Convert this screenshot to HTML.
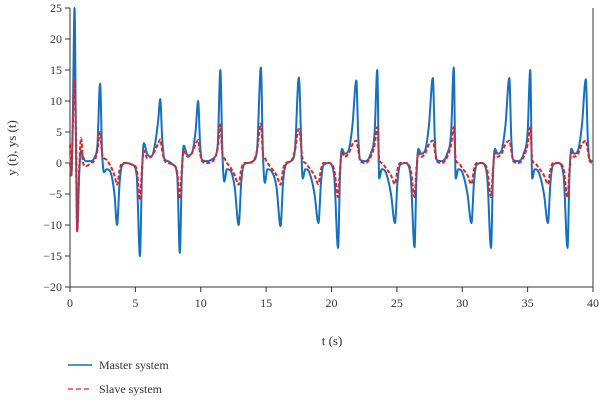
<!DOCTYPE html>
<html><head><meta charset="utf-8"><style>
body{margin:0;background:#fff;}
svg{display:block;font-family:"Liberation Serif",serif;}
</style></head><body>
<svg id="chart" width="600" height="400" viewBox="0 0 600 400" xmlns="http://www.w3.org/2000/svg">
<g id="axes"></g>
<g id="plot"></g>
<text x="332" y="345" font-size="13" fill="#333" text-anchor="middle">t (s)</text>
<text transform="translate(16,148) rotate(-90)" font-size="13" fill="#333" text-anchor="middle">y (t), ys (t)</text>
<g>
<line x1="68" y1="365" x2="92" y2="365" stroke="#1570c0" stroke-width="1.6"/>
<text x="99" y="369" font-size="12" fill="#333">Master system</text>
<line x1="68" y1="389" x2="92" y2="389" stroke="#e52222" stroke-width="1.3" stroke-dasharray="5,3"/>
<text x="99" y="393" font-size="12" fill="#333">Slave system</text>
</g>
</svg>
<script>
const xTicks=[0,5,10,15,20,25,30,35,40];
const yTicks=[-20,-15,-10,-5,0,5,10,15,20,25];
const times=[0,0.1,0.2,0.35,0.45,0.55,0.7,0.85,1.0,1.2,1.6,1.9,2.1,2.3,2.45,2.6,2.8,3.1,3.4,3.6,3.8,4.0,4.3,4.8,5.1,5.35,5.5,5.65,5.9,6.2,6.5,6.75,6.9,7.05,7.2,7.5,7.9,8.2,8.4,8.55,8.7,9.0,9.3,9.6,9.8,9.95,10.1,10.5,11.0,11.3,11.5,11.65,11.8,12.0,12.3,12.6,12.9,13.1,13.3,13.6,14.0,14.3,14.6,14.75,14.9,15.1,15.4,15.8,16.1,16.3,16.5,16.9,17.2,17.5,
17.8,18.0,18.3,18.7,19.0,19.2,19.4,19.8,20.2,20.5,20.65,20.8,21.0,21.3,21.6,21.9,22.05,22.2,22.6,23.0,23.3,23.5,
23.65,23.85,24.15,24.55,24.85,25.05,25.25,25.65,26.05,26.35,26.5,26.65,26.85,27.15,27.45,27.75,27.9,28.05,28.45,28.85,29.15,29.35,
29.5,29.7,30.0,30.4,30.7,30.9,31.1,31.5,31.9,32.2,32.35,32.5,32.7,33.0,33.3,33.6,33.75,33.9,34.3,34.7,35.0,35.2,
35.35,35.55,35.85,36.25,36.55,36.75,36.95,37.35,37.75,38.05,38.2,38.35,38.55,38.85,39.15,39.45,39.6,39.75,40];
const master=[0,-2,5,25,5,-11,-2,2,1,0.3,0.3,1,3,12.8,2,-1.5,-1,-1.5,-5,-10,-3,-0.3,0,-0.3,-2,-15,-2,3.2,1.5,1,3,7,10.3,4,0.8,0.3,-0.3,-2,-14.5,-2,2.8,1.2,1.5,5,10,3,0.5,0.3,0.8,3,15,2,-3,-1,-1.3,-4,-10,-3,-0.3,0,0.3,2,15.4,2,-3.2,-1,-1.3,-4,-10.2,-3,-0.3,0.3,2,13.8,
-2.5,-1,-1.5,-5,-9.7,-3,-0.3,0,-2,-13.7,-2,2.3,1.5,2,6,13.3,4,0.5,0.3,1.5,5,15,
-2.5,-1,-1.5,-5,-9.7,-3,-0.3,0,-2,-13.6,-2,2.3,1.5,2,6,13.7,4,0.5,0.3,1.5,5,15.4,
-2.5,-1,-1.5,-5,-9.7,-3,-0.3,0,-2,-13.7,-2,2.3,1.5,2,6,13.7,4,0.5,0.3,1.5,5,15,
-2.5,-1,-1.5,-5,-9.7,-3,-0.3,0,-2,-13.7,-2,2.3,1.5,2,6,13.5,4,0.5,0.3];
const slave=[3,-2,5,13.5,4,-11,-1,4,0,-0.5,0,0.5,2,5,1.5,0.8,0.5,-0.5,-2,-3.5,-1,0,0,-0.3,-1,-6,-1,2,0.8,1,2,3.2,3.8,2,0.5,0,-0.3,-1.5,-5.8,-1,2,1,1.5,3,3.7,1.5,0.3,0,0.5,2.5,6.2,1.5,0.8,0,-0.8,-2,-3.5,-1,0,0,0.3,2,6.4,1.5,0.8,0,-0.8,-2,-3.5,-1,0,0.3,2,5.5,
0.5,0,-0.8,-2,-3.4,-1,0,0,-1,-5.5,-1,1.8,1,1.5,3,3.6,2,0.3,0,1,3,5.8,
0.5,0,-0.8,-2,-3.4,-1,0,0,-1,-5.5,-1,1.8,1,1.5,3,3.6,2,0.3,0,1,3,5.8,
0.5,0,-0.8,-2,-3.4,-1,0,0,-1,-5.5,-1,1.8,1,1.5,3,3.6,2,0.3,0,1,3,5.8,
0.5,0,-0.8,-2,-3.4,-1,0,0,-1,-5.5,-1,1.8,1,1.5,3,3.6,2,0.3,0];

const X0=70,X1=593,Y0=287,Y1=8;
function sx(t){return X0+(t-0)/(40-0)*(X1-X0);}
function sy(v){return Y0-(v+20)/(25+20)*(Y0-Y1);}
const NS="http://www.w3.org/2000/svg";
const axes=document.getElementById('axes');
const plot=document.getElementById('plot');
function mk(tag,attrs,parent){const e=document.createElementNS(NS,tag);for(const k in attrs)e.setAttribute(k,attrs[k]);parent.appendChild(e);return e;}

let a=mk('path',{d:`M${X0},${Y1}V${Y0}H${X1}V${Y1}`,fill:'none',stroke:'#333','stroke-width':1},axes);


xTicks.forEach(t=>{
  const l=mk('line',{x1:sx(t),x2:sx(t),y1:Y0,y2:Y0+5,stroke:'#333'},axes);
  
  
  const tx=mk('text',{x:sx(t),y:Y0+20,'font-size':12,fill:'#333','text-anchor':'middle'},axes);
  tx.textContent=t;
  
  
});
yTicks.forEach(v=>{
  const l=mk('line',{x1:X0-5,x2:X0,y1:sy(v),y2:sy(v),stroke:'#333'},axes);
  
  
  const tx=mk('text',{x:X0-8,y:sy(v)+4,'font-size':12,fill:'#333','text-anchor':'end'},axes);
  tx.textContent=v<0?'\u2212'+(-v):v;
  
  
});
function pathFor(vals){
  const xs=times.map(sx), ys=vals.map(sy), n=xs.length;
  const d=[],m=[];
  for(let i=0;i<n-1;i++)d.push((ys[i+1]-ys[i])/(xs[i+1]-xs[i]));
  m[0]=d[0];m[n-1]=d[n-2];
  for(let i=1;i<n-1;i++){m[i]=(d[i-1]*d[i]<=0)?0:(d[i-1]+d[i])/2;}
  for(let i=0;i<n-1;i++){
    if(d[i]===0){m[i]=0;m[i+1]=0;continue;}
    const al=m[i]/d[i],be=m[i+1]/d[i],s=al*al+be*be;
    if(s>9){const tt=3/Math.sqrt(s);m[i]=tt*al*d[i];m[i+1]=tt*be*d[i];}
  }
  let p='M'+xs[0].toFixed(1)+','+ys[0].toFixed(1);
  for(let i=0;i<n-1;i++){
    const h=(xs[i+1]-xs[i])/3;
    p+='C'+(xs[i]+h).toFixed(2)+','+(ys[i]+m[i]*h).toFixed(2)+' '+(xs[i+1]-h).toFixed(2)+','+(ys[i+1]-m[i+1]*h).toFixed(2)+' '+xs[i+1].toFixed(2)+','+ys[i+1].toFixed(2);
  }
  return p;
}
const pm=mk('path',{d:pathFor(master),fill:'none',stroke:'#1570c0','stroke-width':2,'stroke-linejoin':'round'},plot);


const ps=mk('path',{d:pathFor(slave),fill:'none',stroke:'#e52222','stroke-width':2,'stroke-dasharray':'4,2','stroke-linejoin':'round'},plot);


</script>
</body></html>
